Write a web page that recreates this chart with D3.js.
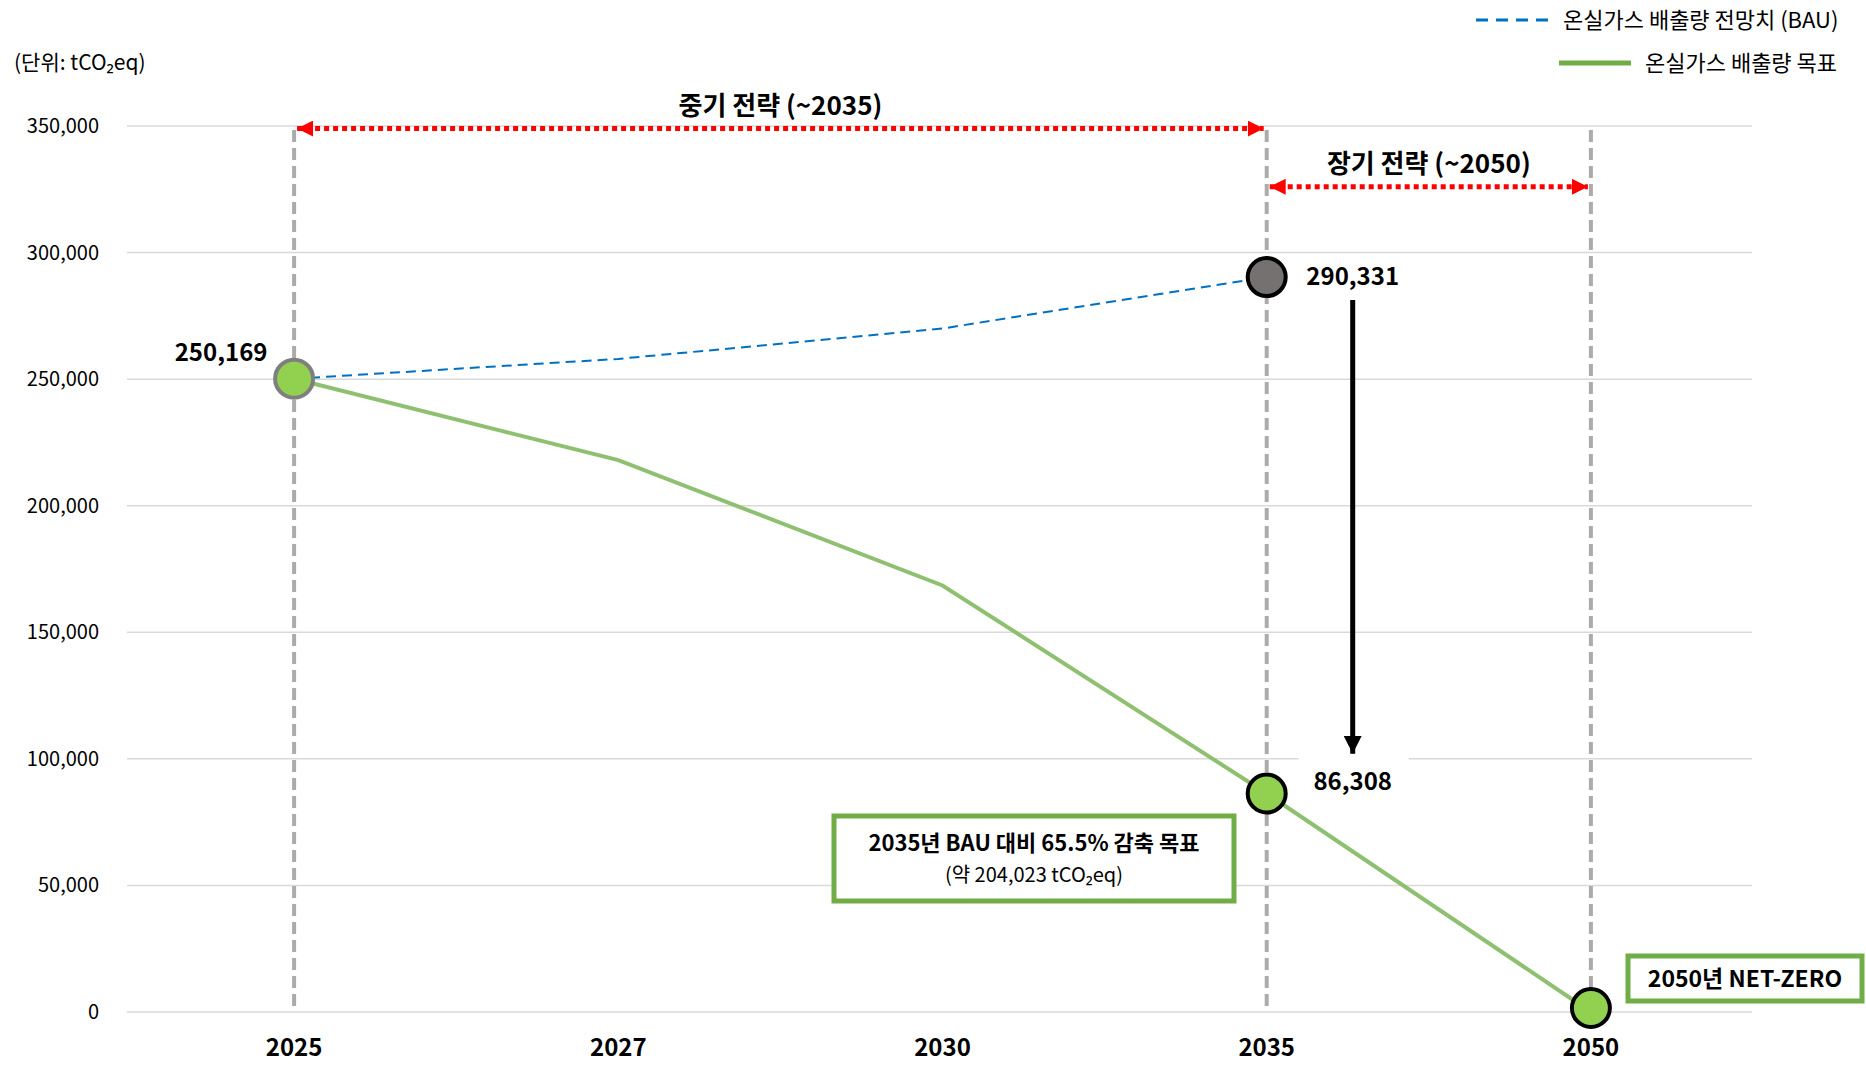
<!DOCTYPE html>
<html>
<head>
<meta charset="utf-8">
<script src="https://cdn.jsdelivr.net/npm/d3@7"></script>
<style>
  body { margin: 0; background: #fff; }
  svg { font-family: "Noto Sans CJK KR", "Noto Sans", sans-serif; }
</style>
</head>
<body>
<div id="container"></div>
<script>
// 데이터
const years = ["2025", "2027", "2030", "2035", "2050"]
const bauYears = ["2025", "2027", "2030", "2035"]
const bauValues = [250169, 258000, 270000, 290331]
const targetValues = [250169, 218000, 168500, 86308, 0]
const yTicks = [0, 50000, 100000, 150000, 200000, 250000, 300000, 350000]
const guideYears = ["2025", "2035", "2050"]

const width = 1866
const height = 1077

const x = d3.scaleBand(years, [132, 1753])
const cx = (d) => x(d) + x.bandwidth() / 2
const y = d3.scaleLinear([0, 350000], [1012, 126])

const svg = d3.create("svg")
  .attr("width", width)
  .attr("height", height)
  .attr("viewBox", [0, 0, width, height])

const defs = svg.append("defs")
const mk = (id, color, w, h) => {
  defs.append("marker")
    .attr("id", id)
    .attr("viewBox", `0 0 ${w} ${h}`)
    .attr("refX", w).attr("refY", h / 2)
    .attr("markerWidth", w).attr("markerHeight", h)
    .attr("markerUnits", "userSpaceOnUse")
    .attr("orient", "auto-start-reverse")
    .append("path")
    .attr("d", `M0,0L${w},${h / 2}L0,${h}Z`)
    .attr("fill", color)
}
mk("redhead", "#ff0000", 16, 16)
mk("blackhead", "#000", 18, 18)

// 격자
svg.append("g")
  .selectAll("line")
  .data(yTicks)
  .join("line")
  .attr("x1", 127).attr("x2", 1752)
  .attr("y1", (d) => y(d)).attr("y2", (d) => y(d))
  .attr("stroke", "#d9d9d9")
  .attr("stroke-width", 1.5)

// y축 라벨
svg.append("g")
  .selectAll("text")
  .data(yTicks)
  .join("text")
  .attr("x", 99)
  .attr("y", (d) => y(d))
  .attr("dy", "0.35em")
  .attr("text-anchor", "end")
  .attr("font-size", 20)
  .attr("fill", "#000")
  .text(d3.format(","))

// x축 라벨
svg.append("g")
  .selectAll("text")
  .data(years)
  .join("text")
  .attr("x", cx)
  .attr("y", 1048)
  .attr("dy", "0.35em")
  .attr("text-anchor", "middle")
  .attr("font-size", 24)
  .attr("font-weight", "bold")
  .text((d) => d)

svg.append("text")
  .attr("x", 14).attr("y", 70)
  .attr("font-size", 21)
  .text("(단위: tCO₂eq)")

// 세로 점선
svg.append("g")
  .selectAll("line")
  .data(guideYears)
  .join("line")
  .attr("x1", cx).attr("x2", cx)
  .attr("y1", y(350000) + 4).attr("y2", y(0))
  .attr("stroke", "#aeaaaa")
  .attr("stroke-width", 4)
  .attr("stroke-dasharray", "12,6")

// 전략 화살표
const spans = [
  { from: "2025", to: "2035", v: 349000, label: "중기 전략 (~2035)", ly: 106 },
  { from: "2035", to: "2050", v: 326000, label: "장기 전략 (~2050)", ly: 164 }
]
svg.append("g")
  .selectAll("line")
  .data(spans)
  .join("line")
  .attr("x1", (d) => cx(d.from) + 3)
  .attr("x2", (d) => cx(d.to) - 3)
  .attr("y1", (d) => y(d.v)).attr("y2", (d) => y(d.v))
  .attr("stroke", "#ff0000")
  .attr("stroke-width", 5)
  .attr("stroke-dasharray", "5,4")
  .attr("marker-start", "url(#redhead)")
  .attr("marker-end", "url(#redhead)")
svg.append("g")
  .selectAll("text")
  .data(spans)
  .join("text")
  .attr("x", (d) => (cx(d.from) + cx(d.to)) / 2)
  .attr("y", (d) => d.ly)
  .attr("dy", "0.35em")
  .attr("text-anchor", "middle")
  .attr("font-size", 26)
  .attr("font-weight", "bold")
  .text((d) => d.label)

// 라인
const bauLine = d3.line().x((d, i) => cx(bauYears[i])).y((d) => y(d))
const targetLine = d3.line().x((d, i) => cx(years[i])).y((d) => y(d))

svg.append("path")
  .datum(bauValues)
  .attr("d", bauLine)
  .attr("fill", "none")
  .attr("stroke", "#0070c0")
  .attr("stroke-width", 2)
  .attr("stroke-dasharray", "10,6")

svg.append("path")
  .datum(targetValues)
  .attr("d", targetLine)
  .attr("fill", "none")
  .attr("stroke", "#8fc072")
  .attr("stroke-width", 4)

// 감축 화살표
const arrowX = cx("2035") + 86
svg.append("rect")
  .attr("x", arrowX - 54).attr("y", y(100000) - 8)
  .attr("width", 110).attr("height", 50)
  .attr("fill", "#fff")
svg.append("line")
  .attr("x1", arrowX).attr("x2", arrowX)
  .attr("y1", y(290331) + 23).attr("y2", y(100000) - 5)
  .attr("stroke", "#000")
  .attr("stroke-width", 5)
  .attr("marker-end", "url(#blackhead)")

// 마커
svg.append("circle")
  .attr("cx", cx("2035")).attr("cy", y(bauValues[3]))
  .attr("r", 19)
  .attr("fill", "#767171")
  .attr("stroke", "#000")
  .attr("stroke-width", 4)

svg.append("g")
  .selectAll("circle")
  .data(targetValues.map((v, i) => ({ year: years[i], v })).filter((d) => d.year !== "2027" && d.year !== "2030"))
  .join("circle")
  .attr("cx", (d) => cx(d.year))
  .attr("cy", (d) => y(d.v) - (d.v === 0 ? 4 : 0))
  .attr("r", 19)
  .attr("fill", "#92d050")
  .attr("stroke", (d) => d.year === "2025" ? "#7f7f7f" : "#000")
  .attr("stroke-width", 4)

// 값 라벨
const valLabels = [
  { text: "250,169", x: cx("2025") - 73, y: y(250169) - 26 },
  { text: "290,331", x: arrowX, y: y(290331) },
  { text: "86,308", x: arrowX, y: y(86308) - 12 }
]
svg.append("g")
  .selectAll("text")
  .data(valLabels)
  .join("text")
  .attr("x", (d) => d.x).attr("y", (d) => d.y)
  .attr("dy", "0.35em")
  .attr("text-anchor", "middle")
  .attr("font-size", 24)
  .attr("font-weight", "bold")
  .text((d) => d.text)

// 설명 박스
const box1 = svg.append("g")
box1.append("rect")
  .attr("x", 834).attr("y", 816)
  .attr("width", 400).attr("height", 85)
  .attr("fill", "#fff")
  .attr("stroke", "#70ad47")
  .attr("stroke-width", 5)
box1.append("text")
  .attr("x", 1034).attr("y", 843)
  .attr("dy", "0.35em")
  .attr("text-anchor", "middle")
  .attr("font-size", 22)
  .attr("font-weight", "bold")
  .text("2035년 BAU 대비 65.5% 감축 목표")
box1.append("text")
  .attr("x", 1034).attr("y", 875)
  .attr("dy", "0.35em")
  .attr("text-anchor", "middle")
  .attr("font-size", 20)
  .text("(약 204,023 tCO₂eq)")

const box2 = svg.append("g")
box2.append("rect")
  .attr("x", 1628).attr("y", 956)
  .attr("width", 234).attr("height", 45)
  .attr("fill", "#fff")
  .attr("stroke", "#70ad47")
  .attr("stroke-width", 5)
box2.append("text")
  .attr("x", 1745).attr("y", 979)
  .attr("dy", "0.35em")
  .attr("text-anchor", "middle")
  .attr("font-size", 23)
  .attr("font-weight", "bold")
  .text("2050년 NET-ZERO")

// 범례
const legend = svg.append("g")
legend.append("line")
  .attr("x1", 1476).attr("x2", 1551).attr("y1", 20).attr("y2", 20)
  .attr("stroke", "#0070c0").attr("stroke-width", 3)
  .attr("stroke-dasharray", "12,8")
legend.append("text")
  .attr("x", 1563).attr("y", 20).attr("dy", "0.35em")
  .attr("font-size", 22)
  .text("온실가스 배출량 전망치 (BAU)")
legend.append("line")
  .attr("x1", 1559).attr("x2", 1631).attr("y1", 63).attr("y2", 63)
  .attr("stroke", "#70ad47").attr("stroke-width", 5)
legend.append("text")
  .attr("x", 1645).attr("y", 63).attr("dy", "0.35em")
  .attr("font-size", 22)
  .text("온실가스 배출량 목표")

document.getElementById("container").append(svg.node())
</script>
</body>
</html>
